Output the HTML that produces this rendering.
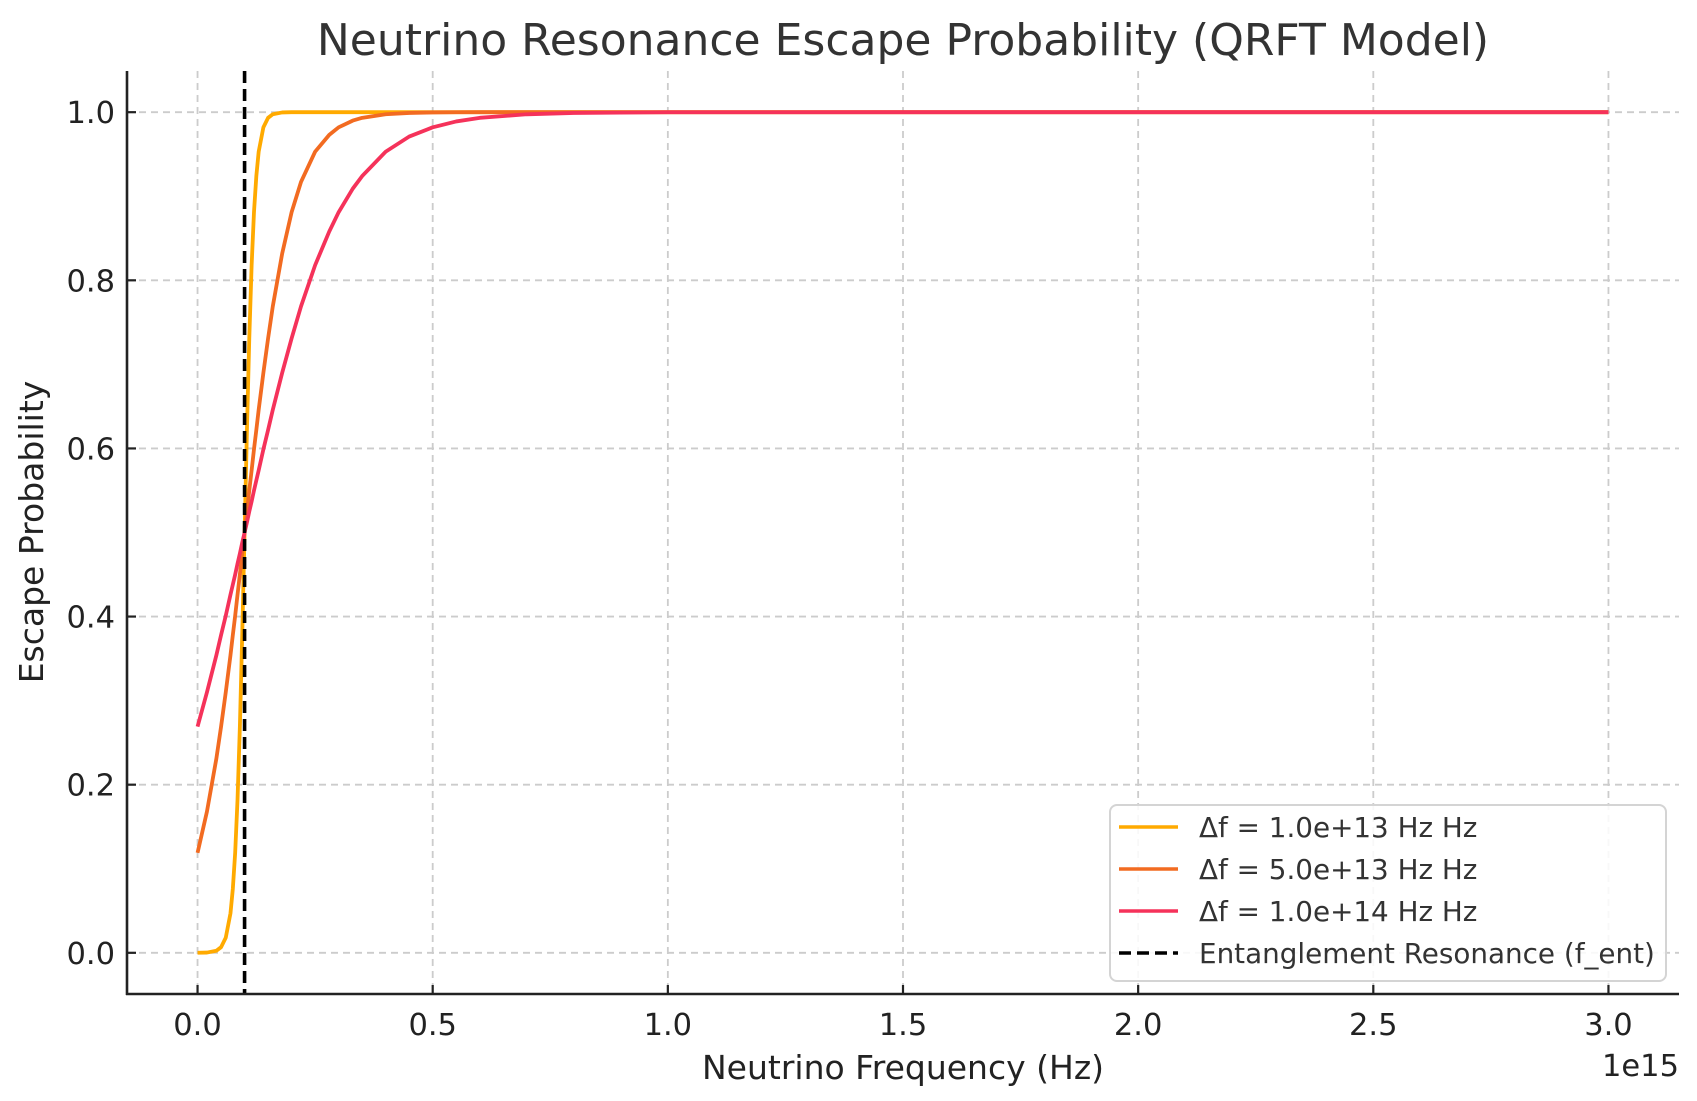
<!DOCTYPE html>
<html><head><meta charset="utf-8"><style>
html,body{margin:0;padding:0;background:#fff;}
svg{display:block;font-family:"DejaVu Sans","Liberation Sans",sans-serif;}
</style></head><body>
<svg id="chart" width="1697" height="1101" viewBox="0 0 1697 1101" xmlns="http://www.w3.org/2000/svg">
<rect x="0" y="0" width="1697" height="1101" fill="#fff"/>
<g id="grid"></g>
<g id="series"></g>
<g id="axes"></g>
<text x="903" y="55" text-anchor="middle" font-size="44" fill="#333">Neutrino Resonance Escape Probability (QRFT Model)</text>
<text x="903" y="1079" text-anchor="middle" font-size="33" fill="#222">Neutrino Frequency (Hz)</text>
<text x="1679" y="1076" text-anchor="end" font-size="30.5" fill="#222">1e15</text>
<text transform="translate(43,532) rotate(-90)" text-anchor="middle" font-size="33" fill="#222">Escape Probability</text>
<g id="legend"></g>
</svg>
<script>
const xValues = [0,0.02,0.04,0.05,0.06,0.07,0.075,0.08,0.085,0.09,0.095,0.1,0.105,0.11,0.115,0.12,0.125,0.13,0.14,0.15,0.16,0.18,0.2,0.22,0.25,0.28,0.3,0.33,0.35,0.4,0.45,0.5,0.55,0.6,0.7,0.8,1.0,1.5,2.0,2.5,3.0];
const seriesA = [0.0001,0.0003,0.0025,0.0067,0.018,0.047,0.076,0.119,0.182,0.269,0.378,0.5,0.622,0.731,0.818,0.881,0.924,0.953,0.982,0.9933,0.9975,0.9997,1,1,1,1,1,1,1,1,1,1,1,1,1,1,1,1,1,1,1];
const seriesB = [0.119,0.168,0.231,0.269,0.31,0.354,0.378,0.401,0.426,0.45,0.475,0.5,0.525,0.55,0.574,0.599,0.622,0.646,0.69,0.731,0.769,0.832,0.881,0.917,0.953,0.973,0.982,0.99,0.9933,0.9975,0.9991,0.9997,0.9999,1,1,1,1,1,1,1,1];
const seriesC = [0.269,0.31,0.354,0.378,0.401,0.426,0.438,0.45,0.463,0.475,0.488,0.5,0.512,0.525,0.537,0.55,0.562,0.574,0.599,0.622,0.646,0.69,0.731,0.769,0.818,0.858,0.881,0.909,0.924,0.953,0.971,0.982,0.989,0.9933,0.9975,0.9991,0.9999,1,1,1,1];
const fEnt = 0.1;
const xTicks = [0,0.5,1.0,1.5,2.0,2.5,3.0];
const yTicks = [0,0.2,0.4,0.6,0.8,1.0];
const seriesLabels = ["Δf = 1.0e+13 Hz Hz","Δf = 5.0e+13 Hz Hz","Δf = 1.0e+14 Hz Hz"];
const seriesColors = ["#FFAA00","#F26B21","#F5325A"];
const NS="http://www.w3.org/2000/svg";
const L=127,R=1679,T=71,B=994;
const xMin=-0.15,xMax=3.15,yMin=-0.049,yMax=1.049;
function sx(v){return L+(v-xMin)/(xMax-xMin)*(R-L);}
function sy(v){return B-(v-yMin)/(yMax-yMin)*(B-T);}
function mk(tag,attrs,parent){const e=document.createElementNS(NS,tag);for(const k in attrs)e.setAttribute(k,attrs[k]);parent.appendChild(e);return e;}
const grid=document.getElementById('grid'),axes=document.getElementById('axes'),series=document.getElementById('series'),legend=document.getElementById('legend');
xTicks.forEach(t=>{
  const g=mk('line',{x1:sx(t),x2:sx(t),y1:T,y2:B,stroke:'#cccccc','stroke-width':1.8,'stroke-dasharray':'7,5'},grid);
  
  
  const tk=mk('line',{x1:sx(t),x2:sx(t),y1:B,y2:B-9,stroke:'#222','stroke-width':2.2},axes);
  
  
  const tl=mk('text',{x:sx(t),y:1035,'text-anchor':'middle','font-size':30.5,fill:'#222'},axes);
  tl.textContent=t.toFixed(1);
  
  
});
yTicks.forEach(t=>{
  const g=mk('line',{x1:L,x2:R,y1:sy(t),y2:sy(t),stroke:'#cccccc','stroke-width':1.8,'stroke-dasharray':'7,5'},grid);
  
  
  const tk=mk('line',{x1:L,x2:L+9,y1:sy(t),y2:sy(t),stroke:'#222','stroke-width':2.2},axes);
  
  
  const tl=mk('text',{x:115,y:sy(t)+11,'text-anchor':'end','font-size':30.5,fill:'#222'},axes);
  tl.textContent=t.toFixed(1);
  
  
});
const ls=mk('line',{x1:L,x2:L,y1:T,y2:B+1,stroke:'#222','stroke-width':2.6},axes);


const bs=mk('line',{x1:L-1,x2:R,y1:B,y2:B,stroke:'#222','stroke-width':2.6},axes);


[seriesA,seriesB,seriesC].forEach((arr,i)=>{
  const d=arr.map((v,j)=>(j?'L':'M')+sx(xValues[j]).toFixed(2)+','+sy(v).toFixed(2)).join(' ');
  const p=mk('path',{d:d,fill:'none',stroke:seriesColors[i],'stroke-width':3.8,'stroke-linejoin':'round','stroke-linecap':'butt'},series);
  
  
});
const vl=mk('line',{x1:sx(fEnt),x2:sx(fEnt),y1:T,y2:B,stroke:'#000','stroke-width':3.6,'stroke-dasharray':'12,6'},series);


const box=mk('rect',{x:1110,y:805,width:556,height:176,rx:7,fill:'rgba(255,255,255,0.85)',stroke:'#d4d4d4','stroke-width':2},legend);


const ly=[827,869,911,953];
seriesLabels.concat(["Entanglement Resonance (f_ent)"]).forEach((lab,i)=>{
  const hl=mk('line',{x1:1119,x2:1178,y1:ly[i],y2:ly[i],stroke:i<3?seriesColors[i]:'#000','stroke-width':3.6},legend);
  if(i===3)hl.setAttribute('stroke-dasharray','12,6');
  
  
  const tx=mk('text',{x:1199,y:ly[i]+10,'font-size':27.8,fill:'#333'},legend);
  tx.textContent=lab;
  
  
});
</script>
</body></html>
